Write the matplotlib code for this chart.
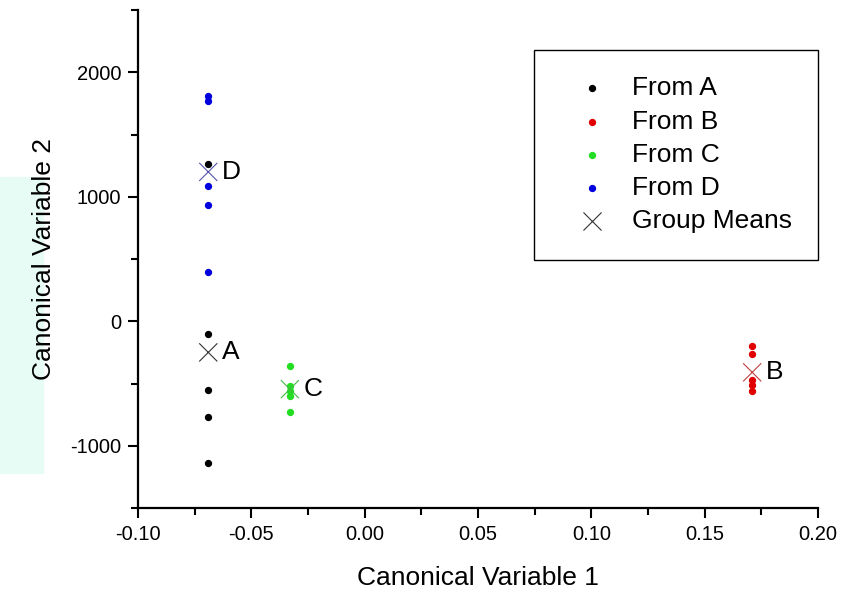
import matplotlib
matplotlib.use("Agg")
import matplotlib.pyplot as plt
from matplotlib.patches import Rectangle

plt.rcParams['font.family'] = ['Liberation Sans', 'DejaVu Sans']
plt.rcParams['axes.unicode_minus'] = False

# canonical scores per group
groups = ["A", "B", "C", "D"]
colors = ["black", "#e00000", "#22dd22", "#0000dd"]
mean_colors = ["#333333", "#c04040", "#44bb44", "#5555aa"]
x_a = [-0.069, -0.069, -0.069, -0.069, -0.069]
y_a = [1264, -104, -552, -768, -1136]
x_b = [0.171, 0.171, 0.171, 0.171, 0.171]
y_b = [-200, -264, -472, -512, -560]
x_c = [-0.033, -0.033, -0.033, -0.033, -0.033]
y_c = [-360, -520, -560, -600, -728]
x_d = [-0.069, -0.069, -0.069, -0.069, -0.069]
y_d = [1808, 1768, 1088, 936, 392]
mean_x = [-0.069, 0.171, -0.033, -0.069]
mean_y = [-250, -410, -545, 1200]

xs = [x_a, x_b, x_c, x_d]
ys = [y_a, y_b, y_c, y_d]

fig = plt.figure(figsize=(8.52, 5.91), dpi=100)
# faint cyan smudge on the left edge of the original scan
fig.patches.append(Rectangle((0, 0.2), 0.05, 0.5, transform=fig.transFigure,
                             color="#e6fcf5", zorder=-5))
ax = fig.add_axes([0.162, 0.1404, 0.798, 0.8426])
ax.patch.set_alpha(0)

for i in range(4):
    ax.scatter(xs[i], ys[i], s=18, color=colors[i], label="From " + groups[i], zorder=3)
ax.scatter(mean_x, mean_y, s=170, marker="x", c=mean_colors, linewidths=0.8, zorder=4)
ax.scatter([], [], s=170, marker="x", c="#333333", linewidths=0.8, label="Group Means")

for i in range(4):
    ax.annotate(groups[i], (mean_x[i], mean_y[i]), xytext=(10, 0),
                textcoords="offset points", fontsize=19, va="center")

ax.set_xlim(-0.10, 0.20)
ax.set_ylim(-1500, 2500)
ax.set_xticks([-0.10, -0.05, 0.00, 0.05, 0.10, 0.15, 0.20])
ax.set_xticklabels(["-0.10", "-0.05", "0.00", "0.05", "0.10", "0.15", "0.20"])
ax.set_xticks([-0.075, -0.025, 0.025, 0.075, 0.125, 0.175], minor=True)
ax.set_yticks([-1000, 0, 1000, 2000])
ax.set_yticks([-1500, -500, 500, 1500, 2500], minor=True)
ax.tick_params(labelsize=14.5, length=7, width=1.5, direction="out", pad=5)
ax.tick_params(which="minor", length=5, width=1.5)
ax.spines["top"].set_visible(False)
ax.spines["right"].set_visible(False)
ax.spines["left"].set_linewidth(1.6)
ax.spines["bottom"].set_linewidth(1.6)

ax.set_xlabel("Canonical Variable 1", fontsize=19, labelpad=16)
ax.set_ylabel("Canonical Variable 2", fontsize=19, labelpad=10)

leg = ax.legend(loc="upper right", bbox_to_anchor=(1.0, 0.92), fontsize=19,
                fancybox=False, edgecolor="black", framealpha=1,
                borderpad=1.0, handletextpad=0.3, labelspacing=0.35, borderaxespad=0,
                handlelength=2.4, markerscale=1.0)
leg.get_frame().set_linewidth(1.0)

fig.savefig("out.png", dpi=100)
